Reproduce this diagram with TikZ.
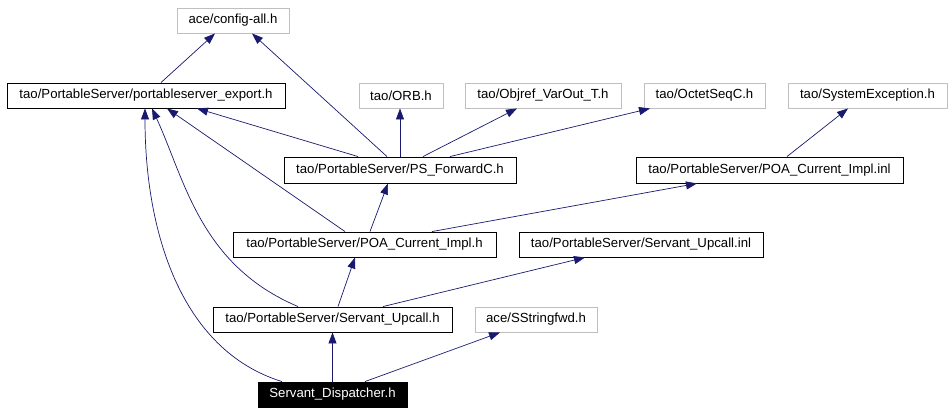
\documentclass[tikz,border=0pt]{standalone}
\usepackage{fontspec}
\setmainfont{Liberation Sans}
\usetikzlibrary{arrows.meta}
\definecolor{edgeblue}{HTML}{191970}
\definecolor{boxgray}{HTML}{BFBFBF}
\tikzset{
  file/.style={draw=black, line width=0.9pt, rectangle, inner sep=0pt, minimum height=25pt, font=\fontsize{13.2}{15}\selectfont, text=black},
  extfile/.style={file, draw=boxgray},
  mainfile/.style={file, fill=black, text=white},
  dep/.style={draw=edgeblue, line width=0.7pt, -{Triangle[length=11pt,width=8pt]}}
}
\begin{document}
\begin{tikzpicture}[x=1pt,y=-1pt]
\useasboundingbox[fill=white] (0,0) rectangle (952,413);
\node[extfile, minimum width=112pt] (cfg) at (233,20.5) {ace/config-all.h};
\node[file, minimum width=278pt] (exp) at (146,95.5) {tao/PortableServer/portableserver\_export.h};
\node[extfile, minimum width=84pt] (orb) at (401,95.5) {tao/ORB.h};
\node[extfile, minimum width=156pt] (obj) at (543,95.5) {tao/Objref\_VarOut\_T.h};
\node[extfile, minimum width=121pt] (oct) at (704.5,95.5) {tao/OctetSeqC.h};
\node[extfile, minimum width=159pt] (sys) at (867.5,95.5) {tao/SystemException.h};
\node[file, minimum width=232pt, minimum height=26pt] (psf) at (400,170) {tao/PortableServer/PS\_ForwardC.h};
\node[file, minimum width=267pt, minimum height=26pt] (inl) at (769.5,170) {tao/PortableServer/POA\_Current\_Impl.inl};
\node[file, minimum width=263pt] (poah) at (364.5,244.5) {tao/PortableServer/POA\_Current\_Impl.h};
\node[file, minimum width=244pt] (upinl) at (641,244.5) {tao/PortableServer/Servant\_Upcall.inl};
\node[file, minimum width=239pt] (uph) at (332.5,319.5) {tao/PortableServer/Servant\_Upcall.h};
\node[extfile, minimum width=122pt] (ssf) at (536,319.5) {ace/SStringfwd.h};
\node[mainfile, minimum width=149pt] (disp) at (332.5,394.5) {Servant\_Dispatcher.h};

\draw[dep] ([xshift=15pt]exp.north) -- ([xshift=-18pt]cfg.south);
\draw[dep] ([xshift=-13pt]psf.north) -- ([xshift=19pt]cfg.south);
\draw[dep] ([xshift=-42pt]psf.north) -- ([xshift=51pt]exp.south);
\draw[dep] (psf.north) -- (orb.south -| psf.north);
\draw[dep] ([xshift=23pt]psf.north) -- ([xshift=-26pt]obj.south);
\draw[dep] ([xshift=50pt]psf.north) -- ([xshift=-54.5pt]oct.south);
\draw[dep] ([xshift=17.5pt]inl.north) -- ([xshift=-19.5pt]sys.south);
\draw[dep] ([xshift=5.5pt]poah.north) -- ([xshift=-12pt]psf.south);
\draw[dep] ([xshift=-19.5pt]poah.north) -- ([xshift=21pt]exp.south);
\draw[dep] ([xshift=67.5pt]poah.north) -- ([xshift=-72.5pt]inl.south);
\draw[dep] ([xshift=5.5pt]uph.north) -- ([xshift=-9.5pt]poah.south);
\draw[dep] ([xshift=-34.5pt]uph.north) .. controls (200,265) and (185,180) .. ([xshift=6pt]exp.south);
\draw[dep] ([xshift=50.5pt]uph.north) -- ([xshift=-56pt]upinl.south);
\draw[dep] (disp.north) -- (uph.south);
\draw[dep] ([xshift=-50.5pt]disp.north) .. controls (180,350) and (145,230) .. ([xshift=-1pt]exp.south);
\draw[dep] ([xshift=32.5pt]disp.north) -- ([xshift=-36pt]ssf.south);
\end{tikzpicture}
\end{document}
